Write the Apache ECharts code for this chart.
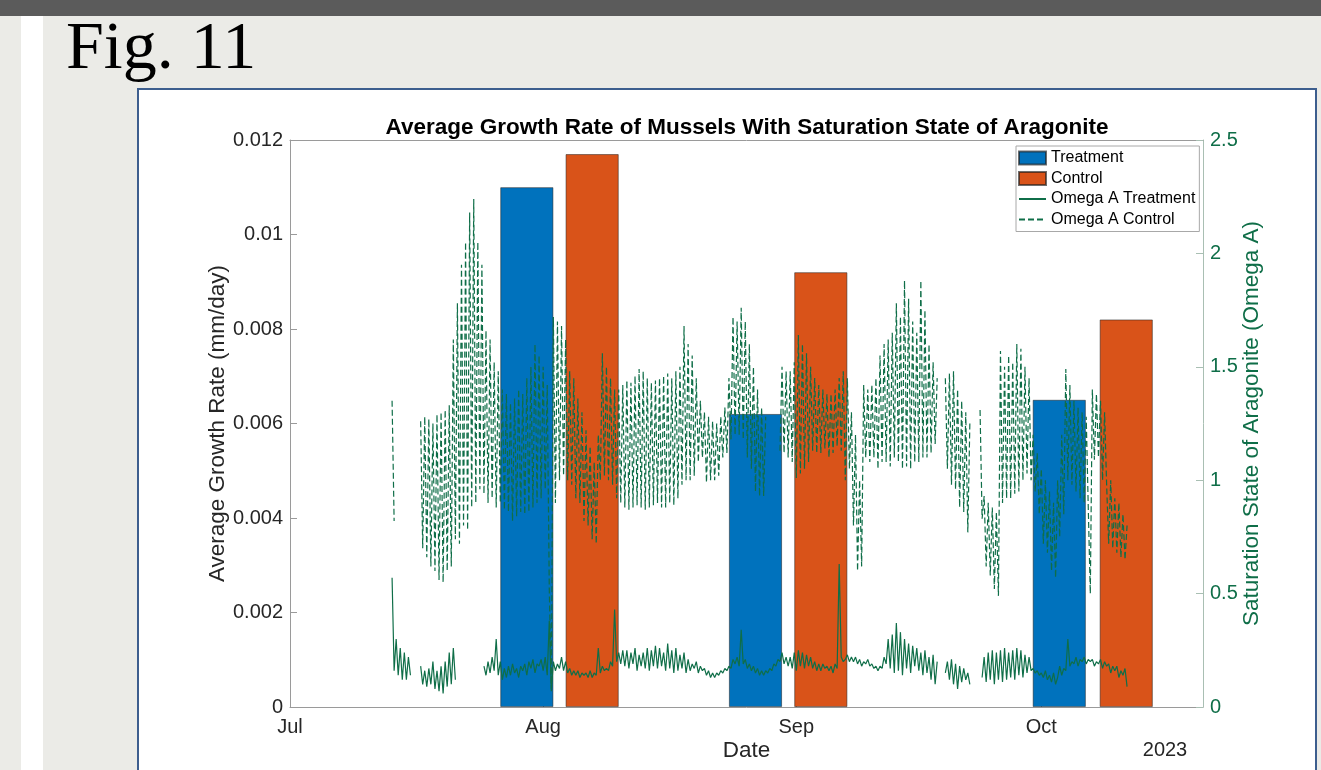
<!DOCTYPE html>
<html>
<head>
<meta charset="utf-8">
<title>Fig. 11</title>
<script src="https://cdn.jsdelivr.net/npm/echarts@6/dist/echarts.min.js"></script>
<style>
  html, body { margin: 0; padding: 0; width: 1321px; height: 770px; overflow: hidden; background: #ebebe7; }
  #topbar { position: absolute; left: 0; top: 0; width: 1321px; height: 16px; background: #5b5b5b; }
  #strip { position: absolute; left: 21px; top: 16px; width: 22px; height: 754px; background: #ffffff; }
  #fig { position: absolute; left: 66px; top: 11px; font-family: 'Liberation Serif', 'DejaVu Serif', serif;
         font-size: 68px; line-height: 68px; color: #000; white-space: nowrap; }
  #panel { position: absolute; left: 137px; top: 88px; width: 1180px; height: 720px; background: #fff;
           border: 2px solid #3d5e8e; box-sizing: border-box; }
  #chart { position: absolute; left: 0; top: 0; width: 1321px; height: 770px; }
</style>
</head>
<body>
<div id="topbar"></div>
<div id="strip"></div>
<div id="fig">Fig. 11</div>
<div id="panel"></div>
<div id="chart"></div>
<script>
// ---- x axis: days counted from 1 July 2023 ----
const xMaxDay = 111.8;
const monthTicks = [0, 31, 62, 92];
const monthLabels = ['Jul', 'Aug', 'Sep', 'Oct'];
const yearLabel = '2023';

// ---- growth rate bars (mm/day), placed at day offsets ----
const treatmentDay = [29.0, 57.0, 94.2];
const treatmentRate = [0.0110, 0.0062, 0.0065];
const controlDay = [37.0, 65.0, 102.4];
const controlRate = [0.0117, 0.0092, 0.0082];

// ---- tick labels ----
const rateTickLabels = ['0', '0.002', '0.004', '0.006', '0.008', '0.01', '0.012'];
const omegaTickLabels = ['0', '0.5', '1', '1.5', '2', '2.5'];

// ---- aragonite saturation (Omega A), sampled every 6 h from 13 Jul 12:00 ----
const omegaStartDay = 12.5;
const omegaStepDay = 0.25;

const omegaTreatment = [
  0.57, 0.16,                 // Jul 13
  0.30, 0.14, 0.26, 0.12,     // Jul 14
  0.24, 0.12, 0.22, 0.14,     // Jul 15
  null, null, null, null,     // Jul 16
  0.18, 0.10, 0.16, 0.09,     // Jul 17
  0.17, 0.10, 0.20, 0.08,     // Jul 18
  0.16, 0.07, 0.18, 0.06,     // Jul 19
  0.20, 0.09, 0.24, 0.10,     // Jul 20
  0.26, 0.12, null, null,     // Jul 21
  null, null, null, null,     // Jul 22
  null, null, null, null,     // Jul 23
  null, null, null, 0.18,     // Jul 24
  0.14, 0.20, 0.15, 0.22,     // Jul 25
  0.16, 0.30, 0.14, 0.20,     // Jul 26
  0.12, 0.17, 0.13, 0.18,     // Jul 27
  0.14, 0.19, 0.15, 0.17,     // Jul 28
  0.13, 0.18, 0.16, 0.19,     // Jul 29
  0.14, 0.20, 0.17, 0.21,     // Jul 30
  0.15, 0.19, 0.18, 0.21,     // Jul 31
  0.16, 0.22, 0.14, 0.38,     // Aug 1
  0.07, 0.20, 0.16, 0.19,     // Aug 2
  0.17, 0.22, 0.16, 0.20,     // Aug 3
  0.15, 0.17, 0.14, 0.16,     // Aug 4
  0.14, 0.16, 0.13, 0.15,     // Aug 5
  0.14, 0.15, 0.13, 0.16,     // Aug 6
  0.13, 0.15, 0.14, 0.26,     // Aug 7
  0.15, 0.18, 0.16, 0.17,     // Aug 8
  0.16, 0.20, 0.18, 0.43,     // Aug 9
  0.20, 0.24, 0.19, 0.25,     // Aug 10
  0.18, 0.25, 0.17, 0.24,     // Aug 11
  0.19, 0.26, 0.16, 0.23,     // Aug 12
  0.18, 0.24, 0.17, 0.26,     // Aug 13
  0.16, 0.25, 0.18, 0.27,     // Aug 14
  0.17, 0.26, 0.18, 0.24,     // Aug 15
  0.16, 0.28, 0.17, 0.25,     // Aug 16
  0.15, 0.26, 0.16, 0.23,     // Aug 17
  0.17, 0.24, 0.15, 0.21,     // Aug 18
  0.16, 0.19, 0.17, 0.20,     // Aug 19
  0.15, 0.18, 0.16, 0.17,     // Aug 20
  0.14, 0.16, 0.13, 0.15,     // Aug 21
  0.13, 0.15, 0.14, 0.16,     // Aug 22
  0.15, 0.17, 0.16, 0.18,     // Aug 23
  0.17, 0.21, 0.19, 0.22,     // Aug 24
  0.18, 0.34, 0.19, 0.21,     // Aug 25
  0.17, 0.19, 0.16, 0.18,     // Aug 26
  0.15, 0.17, 0.14, 0.16,     // Aug 27
  0.14, 0.16, 0.15, 0.17,     // Aug 28
  0.16, 0.19, 0.18, 0.21,     // Aug 29
  0.20, 0.24, 0.19, 0.22,     // Aug 30
  0.18, 0.22, 0.17, 0.24,     // Aug 31
  0.16, 0.25, 0.18, 0.24,     // Sep 1
  0.17, 0.23, 0.18, 0.22,     // Sep 2
  0.17, 0.20, 0.16, 0.19,     // Sep 3
  0.16, 0.19, 0.17, 0.18,     // Sep 4
  0.16, 0.18, 0.15, 0.19,     // Sep 5
  0.17, 0.63, 0.22, 0.20,     // Sep 6
  0.21, 0.23, 0.20, 0.22,     // Sep 7
  0.20, 0.22, 0.19, 0.21,     // Sep 8
  0.18, 0.20, 0.19, 0.21,     // Sep 9
  0.18, 0.19, 0.17, 0.18,     // Sep 10
  0.16, 0.18, 0.17, 0.22,     // Sep 11
  0.19, 0.30, 0.17, 0.32,     // Sep 12
  0.15, 0.37, 0.16, 0.33,     // Sep 13
  0.14, 0.30, 0.17, 0.28,     // Sep 14
  0.15, 0.27, 0.18, 0.26,     // Sep 15
  0.16, 0.24, 0.14, 0.25,     // Sep 16
  0.15, 0.22, 0.12, 0.23,     // Sep 17
  0.10, 0.20, null, null,     // Sep 18
  null, 0.15, 0.20, 0.12,     // Sep 19
  0.21, 0.10, 0.19, 0.08,     // Sep 20
  0.18, 0.11, 0.17, 0.12,     // Sep 21
  0.15, 0.10, null, null,     // Sep 22
  null, null, null, 0.13,     // Sep 23
  0.22, 0.11, 0.24, 0.12,     // Sep 24
  0.25, 0.10, 0.24, 0.12,     // Sep 25
  0.25, 0.11, 0.26, 0.12,     // Sep 26
  0.24, 0.13, 0.25, 0.12,     // Sep 27
  0.26, 0.14, 0.25, 0.13,     // Sep 28
  0.23, 0.15, 0.22, 0.16,     // Sep 29
  0.17, 0.15, 0.16, 0.14,     // Sep 30
  0.15, 0.13, 0.16, 0.12,     // Oct 1
  0.14, 0.11, 0.15, 0.10,     // Oct 2
  0.13, 0.18, 0.14, 0.17,     // Oct 3
  0.16, 0.30, 0.18, 0.20,     // Oct 4
  0.19, 0.22, 0.18, 0.21,     // Oct 5
  0.20, 0.22, 0.19, 0.21,     // Oct 6
  0.20, 0.21, 0.18, 0.20,     // Oct 7
  0.19, 0.21, 0.17, 0.20,     // Oct 8
  0.18, 0.19, 0.15, 0.18,     // Oct 9
  0.16, 0.18, 0.13, 0.16,     // Oct 10
  0.14, 0.17, 0.09            // Oct 11
];

const omegaControl = [
  1.35, 0.82,                 // Jul 13
  null, null, null, null,     // Jul 14
  null, null, null, null,     // Jul 15
  null, null, null, null,     // Jul 16
  1.26, 0.70, 1.28, 0.66,     // Jul 17
  1.27, 0.62, 1.25, 0.60,     // Jul 18
  1.29, 0.56, 1.30, 0.55,     // Jul 19
  1.31, 0.60, 1.33, 0.62,     // Jul 20
  1.62, 0.74, 1.78, 0.72,     // Jul 21
  1.95, 0.80, 2.05, 0.78,     // Jul 22
  2.18, 0.88, 2.24, 0.90,     // Jul 23
  2.05, 0.96, 1.95, 0.94,     // Jul 24
  1.66, 0.90, 1.62, 0.92,     // Jul 25
  1.52, 0.88, 1.48, 0.90,     // Jul 26
  1.40, 0.87, 1.38, 0.86,     // Jul 27
  1.34, 0.82, 1.36, 0.84,     // Jul 28
  1.40, 0.86, 1.38, 0.85,     // Jul 29
  1.45, 0.86, 1.50, 0.88,     // Jul 30
  1.60, 0.90, 1.55, 0.92,     // Jul 31
  1.50, 0.96, 1.42, 0.52,     // Aug 1
  0.08, 1.72, 0.90, 1.70,     // Aug 2
  1.00, 1.68, 1.02, 1.62,     // Aug 3
  1.00, 1.48, 0.98, 1.45,     // Aug 4
  0.92, 1.36, 0.90, 1.30,     // Aug 5
  0.82, 1.22, 0.80, 1.15,     // Aug 6
  0.74, 1.08, 0.72, 1.20,     // Aug 7
  1.00, 1.56, 1.02, 1.50,     // Aug 8
  1.00, 1.45, 0.98, 1.40,     // Aug 9
  0.92, 1.40, 0.90, 1.42,     // Aug 10
  0.88, 1.44, 0.87, 1.43,     // Aug 11
  0.88, 1.46, 0.89, 1.49,     // Aug 12
  0.88, 1.48, 0.87, 1.45,     // Aug 13
  0.88, 1.43, 0.89, 1.44,     // Aug 14
  0.90, 1.45, 0.88, 1.46,     // Aug 15
  0.88, 1.47, 0.90, 1.45,     // Aug 16
  0.89, 1.48, 0.92, 1.50,     // Aug 17
  0.98, 1.68, 1.00, 1.60,     // Aug 18
  1.00, 1.55, 1.02, 1.45,     // Aug 19
  1.08, 1.35, 1.10, 1.30,     // Aug 20
  0.99, 1.28, 1.00, 1.26,     // Aug 21
  1.00, 1.25, 1.02, 1.28,     // Aug 22
  1.10, 1.32, 1.12, 1.45,     // Aug 23
  1.18, 1.72, 1.20, 1.70,     // Aug 24
  1.20, 1.76, 1.18, 1.70,     // Aug 25
  1.10, 1.60, 1.05, 1.50,     // Aug 26
  0.95, 1.40, 0.93, 1.32,     // Aug 27
  0.93, 1.28, null, null,     // Aug 28
  null, null, null, null,     // Aug 29
  1.13, 1.50, 1.12, 1.48,     // Aug 30
  1.10, 1.48, 1.08, 1.52,     // Aug 31
  1.01, 1.64, 1.03, 1.60,     // Sep 1
  1.05, 1.56, 1.08, 1.50,     // Sep 2
  1.13, 1.45, 1.12, 1.42,     // Sep 3
  1.12, 1.40, 1.14, 1.38,     // Sep 4
  1.10, 1.38, 1.12, 1.40,     // Sep 5
  1.15, 1.45, 1.13, 1.48,     // Sep 6
  1.00, 1.45, 1.05, 1.30,     // Sep 7
  0.80, 1.20, 0.60, 1.00,     // Sep 8
  0.62, 1.42, 1.10, 1.40,     // Sep 9
  1.08, 1.42, 1.10, 1.45,     // Sep 10
  1.05, 1.55, 1.08, 1.60,     // Sep 11
  1.08, 1.62, 1.06, 1.65,     // Sep 12
  1.10, 1.78, 1.08, 1.72,     // Sep 13
  1.05, 1.88, 1.06, 1.80,     // Sep 14
  1.05, 1.70, 1.08, 1.65,     // Sep 15
  1.08, 1.88, 1.10, 1.75,     // Sep 16
  1.10, 1.60, 1.12, 1.52,     // Sep 17
  1.16, 1.45, null, null,     // Sep 18
  null, 1.45, 1.05, 1.47,     // Sep 19
  0.98, 1.48, 0.96, 1.40,     // Sep 20
  0.88, 1.35, 0.86, 1.30,     // Sep 21
  0.77, 1.25, null, null,     // Sep 22
  null, null, 1.31, 0.83,     // Sep 23
  0.93, 0.62, 0.90, 0.58,     // Sep 24
  0.88, 0.52, 0.86, 0.49,     // Sep 25
  1.57, 0.90, 1.50, 0.92,     // Sep 26
  1.55, 0.92, 1.52, 0.94,     // Sep 27
  1.60, 0.95, 1.58, 1.00,     // Sep 28
  1.50, 1.03, 1.45, 1.00,     // Sep 29
  1.20, 0.95, 1.12, 0.85,     // Sep 30
  1.05, 0.72, 1.00, 0.68,     // Oct 1
  0.95, 0.60, 0.90, 0.57,     // Oct 2
  1.00, 0.75, 1.20, 0.85,     // Oct 3
  1.49, 1.00, 1.42, 0.98,     // Oct 4
  1.35, 0.95, 1.32, 0.92,     // Oct 5
  1.30, 0.90, 1.28, 0.88,     // Oct 6
  0.50, 1.40, 1.09, 1.38,     // Oct 7
  1.10, 1.35, 1.00, 1.30,     // Oct 8
  0.98, 0.72, 1.00, 0.70,     // Oct 9
  0.92, 0.68, 0.90, 0.66,     // Oct 10
  0.85, 0.65, 0.80            // Oct 11
];

// ---- styling ----
const FONT = "'Liberation Sans', Arial, Helvetica, sans-serif";
const BLUE = '#0072BD';
const ORANGE = '#D95319';
const GREEN = '#0f6e48';
const AXIS_GREY = '#9a9a9a';
const RIGHT_AXIS = '#a9bfb3';
const TEXT = '#262626';
const BAR_EDGE = 'rgba(30,30,30,0.65)';

function toPoints(values) {
  return values.map((v, i) => [omegaStartDay + i * omegaStepDay, v == null ? '-' : v]);
}

const chart = echarts.init(document.getElementById('chart'), null, { renderer: 'canvas' });

chart.setOption({
  animation: false,
  backgroundColor: 'transparent',
  textStyle: { fontFamily: FONT },
  title: {
    text: 'Average Growth Rate of Mussels With Saturation State of Aragonite',
    left: 742, top: 111, textAlign: 'center',
    textStyle: { fontFamily: FONT, fontSize: 22.5, fontWeight: 'bold', color: '#000' }
  },
  legend: {
    left: 1016, top: 146, orient: 'vertical',
    itemWidth: 27, itemHeight: 13, itemGap: 4.5,
    padding: [4, 4, 4, 2],
    backgroundColor: '#fff', borderColor: '#a8a8a8', borderWidth: 1, borderRadius: 0,
    textStyle: { fontFamily: FONT, fontSize: 16, color: '#000' },
    data: [
      { name: 'Treatment', icon: 'rect' },
      { name: 'Control', icon: 'rect' },
      { name: 'Omega A Treatment', itemStyle: { opacity: 0, color: 'rgba(0,0,0,0)', borderWidth: 0 } },
      { name: 'Omega A Control', itemStyle: { opacity: 0, color: 'rgba(0,0,0,0)', borderWidth: 0 } }
    ]
  },
  grid: { left: 290, top: 140, width: 913, height: 567, containLabel: false },
  xAxis: [
    {
      type: 'value', min: 0, max: xMaxDay, position: 'bottom',
      axisLine: { show: true, onZero: false, lineStyle: { color: AXIS_GREY, width: 1 } },
      axisTick: { show: true, inside: true, length: 7, customValues: monthTicks, lineStyle: { color: AXIS_GREY } },
      axisLabel: {
        customValues: monthTicks, color: TEXT, fontSize: 20, margin: 10,
        formatter: v => monthLabels[monthTicks.indexOf(v)]
      },
      splitLine: { show: false },
      name: 'Date', nameLocation: 'middle', nameGap: 32, nameMoveOverlap: false,
      nameTextStyle: { fontFamily: FONT, fontSize: 22.5, color: TEXT }
    },
    {
      type: 'value', min: 0, max: xMaxDay, position: 'top',
      axisLine: { show: true, onZero: false, lineStyle: { color: AXIS_GREY, width: 1 } },
      axisTick: { show: false }, axisLabel: { show: false }, splitLine: { show: false }
    }
  ],
  yAxis: [
    {
      type: 'value', min: 0, max: 0.012, interval: 0.002, position: 'left',
      axisLine: { show: true, onZero: false, lineStyle: { color: AXIS_GREY, width: 1 } },
      axisTick: { show: true, inside: true, length: 7, lineStyle: { color: AXIS_GREY } },
      axisLabel: {
        color: TEXT, fontSize: 20, margin: 7,
        formatter: v => rateTickLabels[Math.round(v / 0.002)]
      },
      splitLine: { show: false },
      name: 'Average Growth Rate (mm/day)', nameLocation: 'middle', nameGap: 61, nameMoveOverlap: false,
      nameTextStyle: { fontFamily: FONT, fontSize: 22.5, color: TEXT }
    },
    {
      type: 'value', min: 0, max: 2.5, interval: 0.5, position: 'right',
      axisLine: { show: true, onZero: false, lineStyle: { color: RIGHT_AXIS, width: 1 } },
      axisTick: { show: true, inside: true, length: 7, lineStyle: { color: RIGHT_AXIS } },
      axisLabel: {
        color: GREEN, fontSize: 20, margin: 7,
        formatter: v => omegaTickLabels[Math.round(v / 0.5)]
      },
      splitLine: { show: false },
      name: 'Saturation State of Aragonite (Omega A)', nameLocation: 'middle', nameGap: 37, nameMoveOverlap: false,
      nameTextStyle: { fontFamily: FONT, fontSize: 22.5, color: GREEN }
    }
  ],
  graphic: [
    {
      type: 'text', x: 1165, y: 750,
      style: { text: yearLabel, fill: TEXT, font: "20px 'Liberation Sans', Arial, sans-serif",
               textAlign: 'center', textVerticalAlign: 'middle' }
    }
  ],
  series: [
    {
      name: 'Treatment', type: 'bar', xAxisIndex: 0, yAxisIndex: 0,
      barWidth: 53, barGap: '-100%', z: 2,
      itemStyle: { color: BLUE, borderColor: BAR_EDGE, borderWidth: 0.8 },
      data: treatmentDay.map((d, i) => [d, treatmentRate[i]])
    },
    {
      name: 'Control', type: 'bar', xAxisIndex: 0, yAxisIndex: 0,
      barWidth: 53, barGap: '-100%', z: 2,
      itemStyle: { color: ORANGE, borderColor: BAR_EDGE, borderWidth: 0.8 },
      data: controlDay.map((d, i) => [d, controlRate[i]])
    },
    {
      name: 'Omega A Treatment', type: 'line', xAxisIndex: 0, yAxisIndex: 1,
      symbol: 'none', showSymbol: false, connectNulls: false, z: 3,
      lineStyle: { color: GREEN, width: 1.2 },
      itemStyle: { color: GREEN },
      data: toPoints(omegaTreatment)
    },
    {
      name: 'Omega A Control', type: 'line', xAxisIndex: 0, yAxisIndex: 1,
      symbol: 'none', showSymbol: false, connectNulls: false, z: 3,
      lineStyle: { color: GREEN, width: 1.2, type: [6, 3] },
      itemStyle: { color: GREEN },
      data: toPoints(omegaControl)
    }
  ]
});
</script>
</body>
</html>
